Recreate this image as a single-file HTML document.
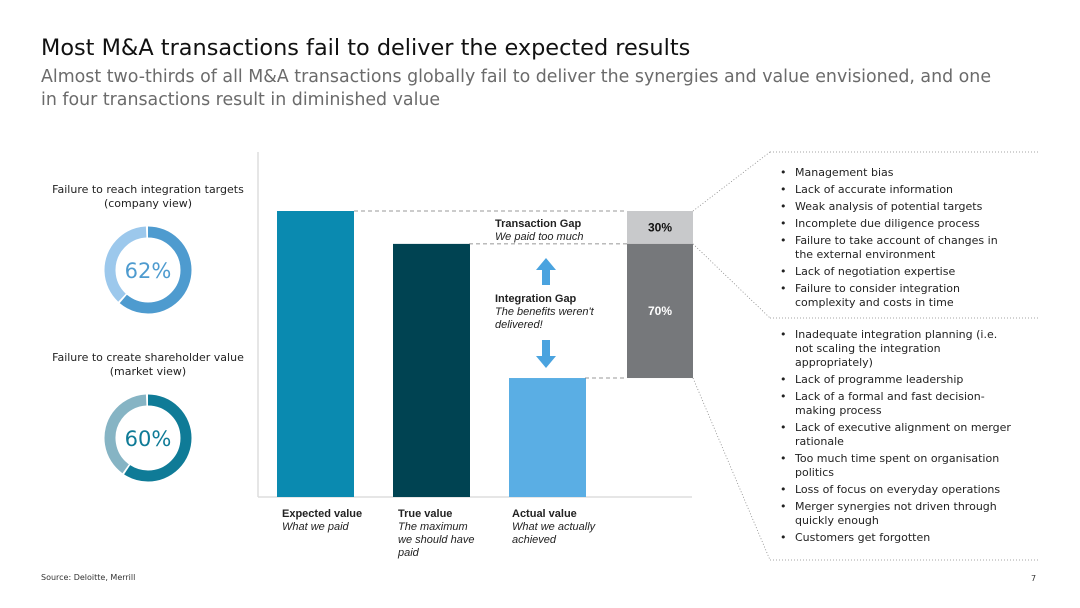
<!DOCTYPE html>
<html><head><meta charset="utf-8"><style>
body{margin:0;width:1080px;height:608px;background:#fff;font-family:"DejaVu Sans","Liberation Sans",sans-serif;position:relative;overflow:hidden;color:#222}
.a{position:absolute}
h1{position:absolute;left:41px;top:35px;margin:0;font-weight:normal;font-size:22.4px;color:#111}
.sub{left:41px;top:66px;font-size:17.4px;color:#6b6b6b;line-height:23px;width:965px}
.ct{font-size:11px;text-align:center;width:220px;line-height:14px;color:#222}
.lab{font-family:"Liberation Sans",sans-serif;font-size:11px;line-height:13px}
.lab b{display:block}
ul{margin:0;padding:0;list-style:none;font-size:11px;line-height:14px;color:#222}
li{position:relative;padding-left:17px;margin-bottom:3px}
li:before{content:"•";position:absolute;left:2px}
</style></head><body>
<h1>Most M&amp;A transactions fail to deliver the expected results</h1>
<div class="a sub">Almost two-thirds of all M&amp;A transactions globally fail to deliver the synergies and value envisioned, and one in four transactions result in diminished value</div>

<div class="a ct" style="left:38px;top:183px">Failure to reach integration targets<br>(company view)</div>
<div class="a ct" style="left:38px;top:351px">Failure to create shareholder value<br>(market view)</div>
<svg class="a" style="left:0;top:0" width="1080" height="608" id="svg"></svg>

<div class="a lab" style="left:495px;top:218px"><b>Transaction Gap</b><i>We paid too much</i></div>
<div class="a lab" style="left:495px;top:293px;width:110px"><b>Integration Gap</b><i>The benefits weren't delivered!</i></div>
<div class="a lab" style="left:282px;top:508px;width:90px"><b>Expected value</b><i>What we paid</i></div>
<div class="a lab" style="left:398px;top:508px;width:82px"><b>True value</b><i>The maximum we should have paid</i></div>
<div class="a lab" style="left:512px;top:508px;width:95px"><b>Actual value</b><i>What we actually achieved</i></div>

<ul class="a" style="left:778px;top:166px;width:235px">
<li>Management bias</li><li>Lack of accurate information</li><li>Weak analysis of potential targets</li><li>Incomplete due diligence process</li><li>Failure to take account of changes in the external environment</li><li>Lack of negotiation expertise</li><li>Failure to consider integration complexity and costs in time</li></ul>
<ul class="a" style="left:778px;top:328px;width:235px">
<li>Inadequate integration planning (i.e. not scaling the integration appropriately)</li><li>Lack of programme leadership</li><li>Lack of a formal and fast decision-making process</li><li>Lack of executive alignment on merger rationale</li><li>Too much time spent on organisation politics</li><li>Loss of focus on everyday operations</li><li>Merger synergies not driven through quickly enough</li><li>Customers get forgotten</li></ul>

<div class="a" style="left:41px;top:573px;font-size:8px;color:#333">Source: Deloitte, Merrill</div>
<div class="a" style="left:1031px;top:574px;font-size:8px;color:#333">7</div>
<script>
const categories=["Expected value","True value","Actual value"];
const values=[100,88.5,41.6];
const barColors=["#0a8ab0","#004352","#5aaee4"];
const gapLabels=["30%","70%"];
const donutValues=[62,60];
const donutLabels=["62%","60%"];
const NS="http://www.w3.org/2000/svg",svg=document.getElementById("svg");
function mk(t,a){const e=document.createElementNS(NS,t);for(const k in a)e.setAttribute(k,a[k]);svg.appendChild(e);return e;}
const base=497,top0=211,vmax=100;
const y=v=>base-(base-top0)*v/vmax;
const bx=[277,393,509],bw=77;
let e=mk("line",{x1:258,y1:152,x2:258,y2:497,stroke:"#ddd","stroke-width":1.5});

e=mk("line",{x1:258,y1:497,x2:692,y2:497,stroke:"#ddd","stroke-width":1.5});

values.forEach((v,i)=>{const r=mk("rect",{x:bx[i],y:y(v),width:bw,height:base-y(v),fill:barColors[i]});

});
const dl=(x1,y1,x2,y2)=>mk("line",{x1,y1,x2,y2,stroke:"#777","stroke-dasharray":"4,3","stroke-width":0.8});
dl(354,y(values[0]),627,y(values[0]));dl(469,y(values[1]),627,y(values[1]));dl(585,y(values[2]),627,y(values[2]));
const sx=627,sw=66;
let g=mk("rect",{x:sx,y:y(values[0]),width:sw,height:y(values[1])-y(values[0]),fill:"#c8c9cb"});

g=mk("rect",{x:sx,y:y(values[1]),width:sw,height:y(values[2])-y(values[1]),fill:"#76787b"});

let t=mk("text",{x:sx+sw/2,y:(y(values[0])+y(values[1]))/2+4,"text-anchor":"middle","font-size":12,"font-weight":"bold","font-family":"Liberation Sans",fill:"#111"});t.textContent=gapLabels[0];

t=mk("text",{x:sx+sw/2,y:(y(values[1])+y(values[2]))/2+4,"text-anchor":"middle","font-size":12,"font-weight":"bold","font-family":"Liberation Sans",fill:"#fff"});t.textContent=gapLabels[1];

mk("path",{d:"M546,258 L556,270 L550,270 L550,285 L542,285 L542,270 L536,270Z",fill:"#4aa3df"});
mk("path",{d:"M546,368 L556,356 L550,356 L550,340 L542,340 L542,356 L536,356Z",fill:"#4aa3df"});
const dot=(x1,y1,x2,y2)=>mk("line",{x1,y1,x2,y2,stroke:"#888","stroke-dasharray":"1,2","stroke-width":0.8});
dot(770,152,1038,152);dot(770,318,1038,318);dot(770,560,1038,560);
dot(693,y(values[0]),770,152);dot(693,y(values[1]),770,318);dot(693,y(values[2]),770,560);
const dc=[[148,270,"#4e9bcf","#9cc8ec","#4e9bcf"],[148,438,"#0f7b97","#86b4c4","#0f7b97"]];
donutValues.forEach((v,i)=>{const [cx,cy,c1,c2,tc]=dc[i],r=38,C=2*Math.PI*r,gap=2;
let a=mk("circle",{cx,cy,r,fill:"none",stroke:c2,"stroke-width":11,"stroke-dasharray":(C*(100-v)/100-gap)+" "+C,transform:`rotate(${-90+360*v/100} ${cx} ${cy})`});

a=mk("circle",{cx,cy,r,fill:"none",stroke:c1,"stroke-width":11,"stroke-dasharray":(C*v/100-gap)+" "+C,transform:`rotate(-90 ${cx} ${cy})`});

const tx=mk("text",{x:cx,y:cy+8,"text-anchor":"middle","font-size":21,fill:tc,"font-family":"DejaVu Sans"});tx.textContent=donutLabels[i];
});
</script>
</body></html>
